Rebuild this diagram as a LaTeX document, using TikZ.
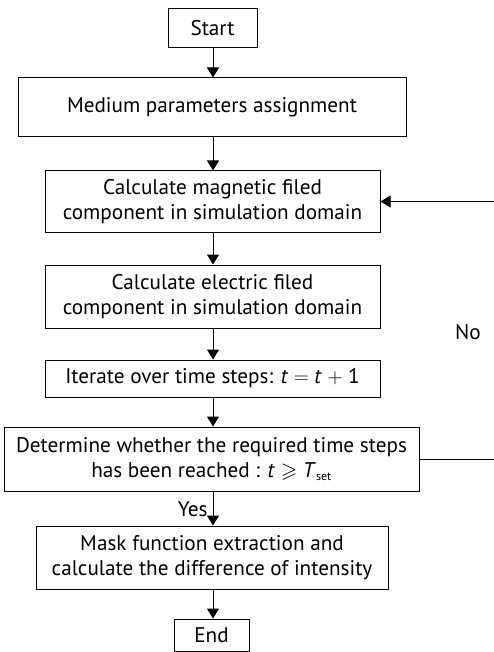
\documentclass[tikz,border=0pt]{standalone}
\usepackage{fontspec}
\usepackage{amssymb}
\setmainfont{PT Sans}
\usetikzlibrary{arrows.meta}
\begin{document}
\begin{tikzpicture}[x=1pt,y=-1pt,
  box/.style={draw, line width=1pt, align=center, inner sep=0pt, font=\fontsize{21.2}{25}\selectfont},
  arr/.style={line width=1pt, -{Triangle[width=12pt,length=10pt]}},
  lbl/.style={font=\fontsize{21.2}{25}\selectfont, inner sep=0pt}]
\useasboundingbox (0,0) rectangle (494,652);
\clip (0,0) rectangle (494,652);
\node[box, minimum width=89pt, minimum height=39pt] (start) at (212.5,28.5) {Start};
\node[box, minimum width=388pt, minimum height=59pt] (medium) at (212,107.5) {Medium parameters assignment};
\node[box, minimum width=335pt, minimum height=61pt] (mag) at (212.5,201.5) {Calculate magnetic filed\\component in simulation domain};
\node[box, minimum width=335pt, minimum height=63pt] (elec) at (212.5,296.5) {Calculate electric filed\\component in simulation domain};
\node[box, minimum width=335pt, minimum height=37pt] (iter) at (212.5,378.5) {Iterate over time steps: \textit{t} $=$ \textit{t} $+$ 1};
\node[box, minimum width=415pt, minimum height=64pt] (dec) at (211.5,459) {Determine whether the required time steps\\has been reached : \textit{t} $\geqslant$ \textit{T}\textsubscript{\fontsize{12}{12}\selectfont set}};
\node[box, minimum width=352pt, minimum height=63pt] (mask) at (212,557.5) {Mask function extraction and\\calculate the difference of intensity};
\node[box, minimum width=75pt, minimum height=32pt] (end) at (211.5,635) {End};
\coordinate (loop) at (510,459);
\draw[arr] (start.south -| 213,0) -- (medium.north -| 213,0);
\draw[arr] (medium.south -| 213,0) -- (mag.north -| 213,0);
\draw[arr] (mag.south -| 213,0) -- (elec.north -| 213,0);
\draw[arr] (elec.south -| 213,0) -- (iter.north -| 213,0);
\draw[arr] (iter.south -| 213,0) -- (dec.north -| 213,0);
\draw[arr] (dec.south -| 213,0) -- node[lbl, left=5pt, yshift=-1pt] (yes) {Yes} (mask.north -| 213,0);
\draw[arr] (mask.south -| 213,0) -- (end.north -| 213,0);
\draw[arr] (dec.east) -- (loop) |- (mag.east);
\node[lbl] (no) at (468,332) {No};
\end{tikzpicture}
\end{document}
